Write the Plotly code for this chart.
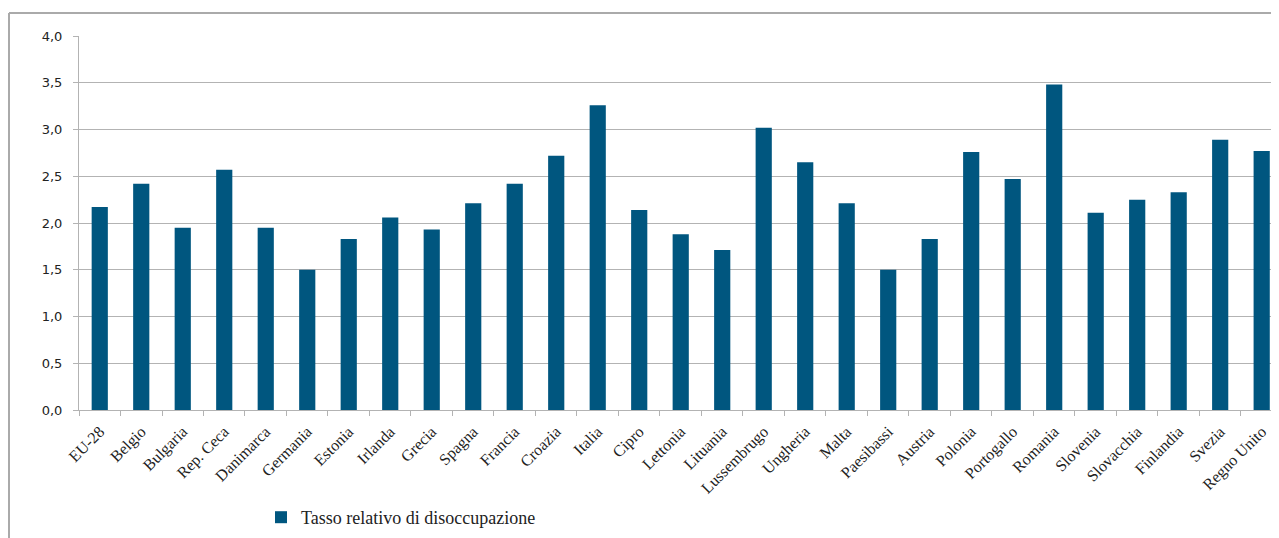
import plotly.graph_objects as go

categories = ["EU-28", "Belgio", "Bulgaria", "Rep. Ceca", "Danimarca", "Germania", "Estonia",
              "Irlanda", "Grecia", "Spagna", "Francia", "Croazia", "Italia", "Cipro", "Lettonia",
              "Lituania", "Lussembrugo", "Ungheria", "Malta", "Paesibassi", "Austria", "Polonia",
              "Portogallo", "Romania", "Slovenia", "Slovacchia", "Finlandia", "Svezia", "Regno Unito"]
values = [2.17, 2.42, 1.95, 2.57, 1.95, 1.50, 1.83, 2.06, 1.93, 2.21, 2.42, 2.72, 3.26, 2.14,
          1.88, 1.71, 3.02, 2.65, 2.21, 1.50, 1.83, 2.76, 2.47, 3.48, 2.11, 2.25, 2.33, 2.89, 2.77]
series_name = "Tasso relativo di disoccupazione"
y_ticks = [0.0, 0.5, 1.0, 1.5, 2.0, 2.5, 3.0, 3.5, 4.0]

BAR = "#00567f"
GRID = "#b3b3b3"
SERIF = "Liberation Serif"
SANS = "DejaVu Sans"
TXT = "#222222"

fig = go.Figure()
fig.add_trace(go.Bar(x=categories, y=values, name=series_name,
                     marker=dict(color=BAR, line=dict(width=0)), showlegend=True))

# page body has an 8px margin; figure coordinates below are relative to the figure
W, H = 1279, 538
L, R, T, B = 71, 0, 28, 136
pw, ph = W - L - R, H - T - B

def px(xp):
    return (xp - L) / pw

def py(yp):
    return (H - B - yp) / ph

fig.update_layout(
    width=W, height=H,
    margin=dict(l=L, r=R, t=T, b=B),
    paper_bgcolor="white", plot_bgcolor="white",
    separators=",.",
    bargap=0.61,
    font=dict(family=SERIF, color=TXT, size=13),
    legend=dict(orientation="h", x=px(253), y=py(491), xanchor="left", yanchor="top",
                font=dict(family=SERIF, size=18, color=TXT), itemwidth=30,
                bgcolor="rgba(0,0,0,0)"),
    xaxis=dict(range=[-0.5, 28.61], tickangle=-45, ticks="outside", ticklen=5, tickcolor=GRID,
               tickson="boundaries", showline=True, linecolor=GRID, linewidth=1, showgrid=False,
               ticklabelstandoff=5,
               tickfont=dict(family=SERIF, size=16, color=TXT), fixedrange=True),
    yaxis=dict(range=[0, 4.0], tickvals=y_ticks, tickformat=".1f", ticks="outside", ticklen=5,
               tickcolor=GRID, showline=True, linecolor=GRID, linewidth=1, showgrid=True,
               gridcolor=GRID, gridwidth=1, zeroline=False, ticklabelstandoff=8,
               tickfont=dict(family=SANS, size=13, color=TXT), fixedrange=True),
    shapes=[
        dict(type="line", xref="paper", yref="paper", x0=px(1), x1=px(1), y0=py(5), y1=py(540),
             line=dict(color="#aaaaaa", width=2)),
        dict(type="line", xref="paper", yref="paper", x0=px(1), x1=px(1285), y0=py(5), y1=py(5),
             line=dict(color="#aaaaaa", width=2)),
    ],
)

fig.write_html("out.html")
